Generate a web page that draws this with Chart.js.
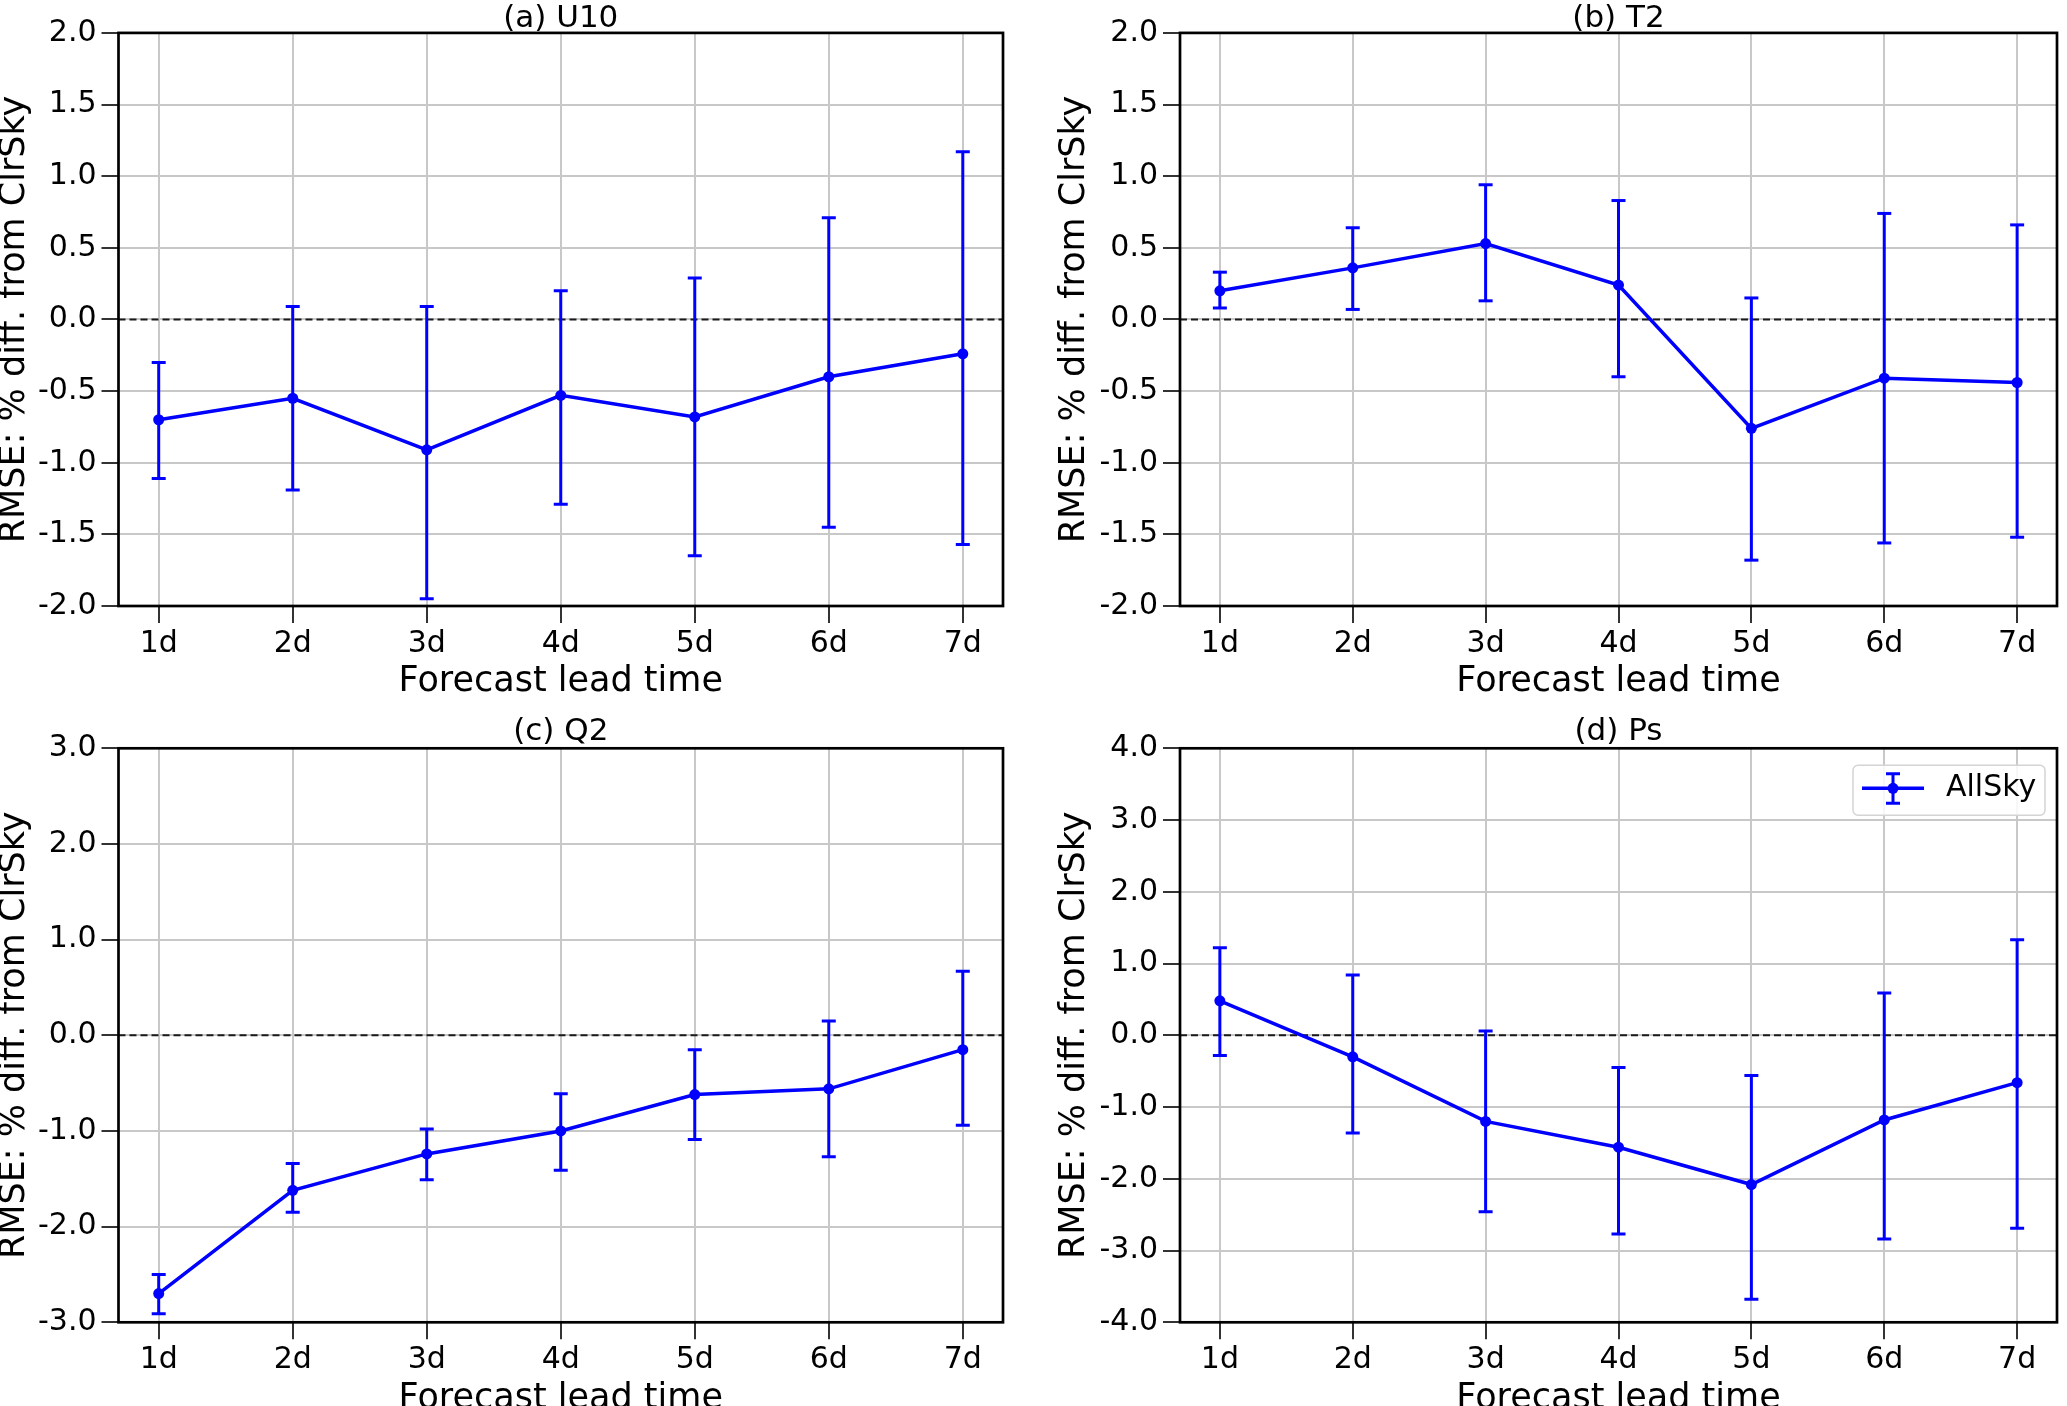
<!DOCTYPE html>
<html>
<head>
<meta charset="utf-8">
<script src="https://cdn.jsdelivr.net/npm/chart.js@4.4.1/dist/chart.umd.min.js"></script>
<style>
  html, body { margin: 0; padding: 0; background: #fff; width: 2067px; height: 1406px; overflow: hidden; }
  canvas { position: absolute; }
</style>
</head>
<body>
<canvas id="u10" width="1034" height="703" style="left:0;top:0"></canvas>
<canvas id="t2" width="1033" height="703" style="left:1034px;top:0"></canvas>
<canvas id="q2" width="1034" height="720" style="left:0;top:703px"></canvas>
<canvas id="ps" width="1033" height="720" style="left:1034px;top:703px"></canvas>
<script>
const leadLabels = ['1d', '2d', '3d', '4d', '5d', '6d', '7d'];
const seriesName = 'AllSky';

// mean % difference and the ends of each error bar
const u10Mean = [-0.70, -0.55, -0.91, -0.53, -0.68, -0.40, -0.24];
const u10Low  = [-1.11, -1.19, -1.95, -1.29, -1.65, -1.45, -1.57];
const u10High = [-0.30, 0.09, 0.09, 0.20, 0.29, 0.71, 1.17];

const t2Mean = [0.20, 0.36, 0.53, 0.24, -0.76, -0.41, -0.44];
const t2Low  = [0.08, 0.07, 0.13, -0.40, -1.68, -1.56, -1.52];
const t2High = [0.33, 0.64, 0.94, 0.83, 0.15, 0.74, 0.66];

const q2Mean = [-2.70, -1.62, -1.24, -1.00, -0.62, -0.56, -0.15];
const q2Low  = [-2.91, -1.85, -1.51, -1.41, -1.09, -1.27, -0.94];
const q2High = [-2.50, -1.34, -0.98, -0.61, -0.15, 0.15, 0.67];

const psMean = [0.48, -0.30, -1.20, -1.56, -2.08, -1.18, -0.66];
const psLow  = [-0.28, -1.36, -2.46, -2.77, -3.68, -2.84, -2.69];
const psHigh = [1.22, 0.84, 0.06, -0.45, -0.56, 0.59, 1.33];

Chart.defaults.font.family = '"DejaVu Sans", sans-serif';
Chart.defaults.color = '#000';

const BLUE = '#0000ff';
const GRID = '#c8c8c8';

// dashed zero line under the data, black frame over it
const framePlugin = {
  id: 'frame',
  beforeDatasetsDraw(chart) {
    const { ctx, chartArea: a } = chart;
    const y0 = chart.scales.y.getPixelForValue(0);
    ctx.save();
    ctx.strokeStyle = '#1a1a1a';
    ctx.lineWidth = 2;
    ctx.setLineDash([7, 4]);
    ctx.beginPath();
    ctx.moveTo(a.left, y0);
    ctx.lineTo(a.right, y0);
    ctx.stroke();
    ctx.restore();
  },
  afterDatasetsDraw(chart) {
    const { ctx, chartArea: a } = chart;
    ctx.save();
    ctx.strokeStyle = '#000';
    ctx.lineWidth = 2.7;
    ctx.strokeRect(a.left, a.top, a.right - a.left, a.bottom - a.top);
    ctx.restore();
  }
};

// matplotlib-like legend box in the upper right of the plot
const legendBoxPlugin = {
  id: 'legendBox',
  afterDatasetsDraw(chart) {
    const { ctx, chartArea: a } = chart;
    const w = 192, h = 50;
    const x = a.right - 12 - w, y = a.top + 17;
    const cy = y + 23;
    ctx.save();
    ctx.fillStyle = 'rgba(255,255,255,0.85)';
    ctx.strokeStyle = '#d4d4d4';
    ctx.lineWidth = 1.5;
    ctx.beginPath();
    ctx.roundRect(x, y, w, h, 5);
    ctx.fill();
    ctx.stroke();
    // sample: line + marker + error bar with caps
    ctx.strokeStyle = BLUE;
    ctx.fillStyle = BLUE;
    ctx.lineWidth = 3.5;
    ctx.beginPath();
    ctx.moveTo(x + 9, cy);
    ctx.lineTo(x + 71, cy);
    ctx.stroke();
    ctx.lineWidth = 3;
    ctx.beginPath();
    ctx.moveTo(x + 40, cy - 14.5);
    ctx.lineTo(x + 40, cy + 15);
    ctx.moveTo(x + 33, cy - 14.5);
    ctx.lineTo(x + 47, cy - 14.5);
    ctx.moveTo(x + 33, cy + 15);
    ctx.lineTo(x + 47, cy + 15);
    ctx.stroke();
    ctx.beginPath();
    ctx.arc(x + 40, cy, 5.5, 0, Math.PI * 2);
    ctx.fill();
    ctx.fillStyle = '#000';
    ctx.font = '30px "DejaVu Sans", sans-serif';
    ctx.textBaseline = 'middle';
    ctx.textAlign = 'left';
    ctx.fillText(chart.data.datasets[0].label, x + 93, cy);
    ctx.restore();
  }
};

function makePanel(id, title, mean, low, high, yMin, yMax, yStep, geo, withLegend) {
  const meanPts = mean.map((v, i) => ({ x: i + 1, y: v }));
  // each bar = low point, high point, then a gap
  const barPts = low.flatMap((lo, i) => [
    { x: i + 1, y: lo }, { x: i + 1, y: high[i] }, { x: i + 1, y: null }
  ]);

  return new Chart(document.getElementById(id), {
    type: 'line',
    data: {
      datasets: [
        {
          label: seriesName,
          data: meanPts,
          borderColor: BLUE,
          backgroundColor: BLUE,
          borderWidth: 3.5,
          pointRadius: 5.5,
          pointBorderWidth: 0,
          tension: 0,
          order: 0
        },
        {
          label: seriesName + ' error',
          data: barPts,
          borderColor: BLUE,
          backgroundColor: BLUE,
          borderWidth: 3,
          pointStyle: 'line',
          pointRadius: 7,
          pointBorderWidth: 3,
          pointBorderColor: BLUE,
          spanGaps: false,
          order: 1
        }
      ]
    },
    options: {
      responsive: false,
      animation: false,
      devicePixelRatio: 1,
      layout: { padding: { left: 0, top: 0, bottom: 0, right: geo.padRight } },
      plugins: {
        legend: { display: false },
        tooltip: { enabled: false },
        title: {
          display: true,
          text: title,
          fullSize: false,
          color: '#000',
          font: { size: 31, weight: 'normal', lineHeight: 1 },
          padding: geo.titlePad
        }
      },
      scales: {
        x: {
          type: 'linear',
          min: 0.7,
          max: 7.3,
          offset: false,
          afterBuildTicks: (s) => { s.ticks = leadLabels.map((_, i) => ({ value: i + 1 })); },
          afterFit: (s) => { s.height = geo.xHeight; },
          ticks: {
            callback: (v) => leadLabels[Math.round(v) - 1],
            font: { size: 30, lineHeight: 1 },
            color: '#000',
            padding: 6,
            maxRotation: 0,
            autoSkip: false
          },
          grid: { color: GRID, lineWidth: 2, offset: false, tickLength: 17, tickColor: '#333', tickWidth: 2 },
          border: { display: false },
          title: {
            display: true,
            text: 'Forecast lead time',
            color: '#000',
            font: { size: 35, lineHeight: 1 },
            padding: { top: geo.xTitlePad, bottom: geo.xTitlePad }
          }
        },
        y: {
          min: yMin,
          max: yMax,
          afterFit: (s) => { s.width = geo.yWidth; },
          ticks: {
            stepSize: yStep,
            callback: (v) => v.toFixed(1),
            font: { size: 30 },
            color: '#000',
            padding: 5
          },
          grid: { color: GRID, lineWidth: 2, tickLength: 17, tickColor: '#333', tickWidth: 2 },
          border: { display: false },
          title: {
            display: true,
            text: 'RMSE: % diff. from ClrSky',
            color: '#000',
            font: { size: 35, lineHeight: 1 },
            padding: { top: geo.yTitlePad, bottom: geo.yTitlePad }
          }
        }
      }
    },
    plugins: withLegend ? [framePlugin, legendBoxPlugin] : [framePlugin]
  });
}

const topLeft  = { yWidth: 118.5, xHeight: 97,    padRight: 31, titlePad: { top: 3, bottom: -1.1 },  yTitlePad: -3,   xTitlePad: 4 };
const topRight = { yWidth: 146,   xHeight: 97,    padRight: 2,  titlePad: { top: 3, bottom: -1.1 },  yTitlePad: 23.4, xTitlePad: 4 };
const botLeft  = { yWidth: 118.5, xHeight: 100.7, padRight: 31, titlePad: { top: 13.5, bottom: 0.8 }, yTitlePad: -3,   xTitlePad: 7 };
const botRight = { yWidth: 146,   xHeight: 100.7, padRight: 2,  titlePad: { top: 13.5, bottom: 0.8 }, yTitlePad: 23.4, xTitlePad: 7 };

makePanel('u10', '(a) U10', u10Mean, u10Low, u10High, -2, 2, 0.5, topLeft, false);
makePanel('t2', '(b) T2', t2Mean, t2Low, t2High, -2, 2, 0.5, topRight, false);
makePanel('q2', '(c) Q2', q2Mean, q2Low, q2High, -3, 3, 1, botLeft, false);
makePanel('ps', '(d) Ps', psMean, psLow, psHigh, -4, 4, 1, botRight, true);
</script>
</body>
</html>
